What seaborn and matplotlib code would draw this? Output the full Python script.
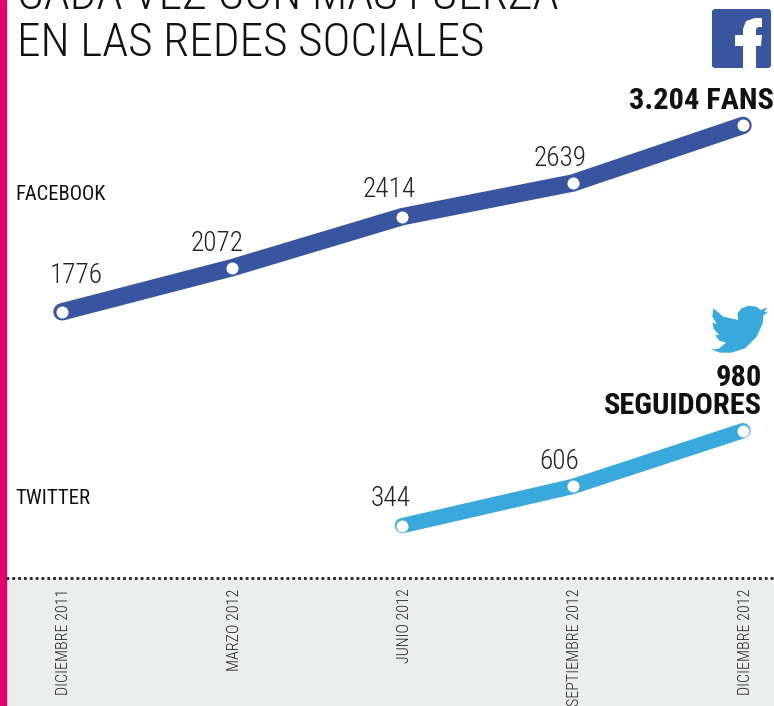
import matplotlib
matplotlib.use('Agg')

import pandas as pd
import matplotlib.pyplot as plt
import seaborn as sns
from matplotlib.patches import FancyBboxPatch, Polygon, Rectangle
from matplotlib.transforms import ScaledTranslation

# DATA
fechas = ["DICIEMBRE 2011", "MARZO 2012", "JUNIO 2012", "SEPTIEMBRE 2012", "DICIEMBRE 2012"]
facebook_pos = [1776, 2072, 2414, 2639, 3025]  # last point is drawn lower than 3204 in the original
facebook_txt = ["1776", "2072", "2414", "2639"]
twitter_idx = [2, 3, 4]
twitter_val = [344, 606, 980]
twitter_txt = ["344", "606"]

AZUL = "#3A559F"
CELESTE = "#39A9DC"
ROSA = "#E2006F"
GRIS = "#ECEEED"
NARROW = ["Roboto Condensed", "Roboto", "DejaVu Sans"]

W, H = 774, 706


def px(x, y):
    return x / W, 1 - y / H


sns.set_theme(style="white")
plt.rcParams["font.family"] = NARROW

fig = plt.figure(figsize=(W / 100, H / 100), dpi=100, facecolor="white")
fig.patches.append(Rectangle((0, 0), 1, 1 - 578 / H, transform=fig.transFigure, color=GRIS, zorder=0))
fig.patches.append(Rectangle((0, 0), 6 / W, 1, transform=fig.transFigure, color=ROSA, zorder=1))

ax = fig.add_axes([0, 1 - 578 / H, 1, 578 / H])
ax.set_zorder(2)
ax.patch.set_alpha(0)

df_fb = pd.DataFrame({"x": range(5), "y": facebook_pos})
df_tw = pd.DataFrame({"x": twitter_idx, "y": twitter_val})

for d, color, lw in [(df_fb, AZUL, 12.5), (df_tw, CELESTE, 11)]:
    sns.lineplot(data=d, x="x", y="y", color=color, lw=lw, ax=ax,
                 solid_capstyle="round", solid_joinstyle="round")
    sns.scatterplot(data=d, x="x", y="y", color="white", s=75, linewidth=0, ax=ax, zorder=5)

ax.set_xlim(-0.364, 4.182)
ax.set_ylim(-7, 3865)
ax.set_xlabel("")
ax.set_ylabel("")
ax.set_yticks([])
ax.set_xticks(range(5))
ax.set_xticklabels(fechas, rotation=90, ha="center", va="top", fontsize=11.5, fontweight="light", color="#222222")
ax.tick_params(axis="x", length=0, pad=7.6)
# rotated labels sit a little left of the tick, nudge them over
nudge = ScaledTranslation(2 / 100, 0, fig.dpi_scale_trans)
for lab in ax.get_xticklabels():
    lab.set_transform(lab.get_transform() + nudge)
sns.despine(ax=ax, left=True, top=True, right=True)
ax.spines["bottom"].set_linewidth(2)
ax.spines["bottom"].set_linestyle((0, (1, 1.1)))
ax.spines["bottom"].set_capstyle("butt")
ax.spines["bottom"].set_color("#222222")
ax.spines["bottom"].set_bounds(-0.33, 4.182)

# value labels
offs_fb = [(14, 36), (-15, 24), (-13, 27), (-13, 25)]
for i, (t, o) in enumerate(zip(facebook_txt, offs_fb)):
    ax.annotate(t, (i, facebook_pos[i]), xytext=o, textcoords="offset pixels",
                ha="center", va="center", fontsize=19.6, fontweight="light", color="#222222")
offs_tw = [(-12, 27), (-14, 25)]
for i, t, o in zip(twitter_idx, twitter_txt, offs_tw):
    ax.annotate(t, (i, twitter_val[twitter_idx.index(i)]), xytext=o, textcoords="offset pixels",
                ha="center", va="center", fontsize=19.6, fontweight="light", color="#222222")

# title, first line runs off the top of the page
fig.text(*px(17, 9), "CADA VEZ CON MÁS FUERZA", fontsize=34, fontweight="light", color="#111111", va="baseline")
fig.text(*px(17, 56), "EN LAS REDES SOCIALES", fontsize=34, fontweight="light", color="#111111", va="baseline")

fig.text(*px(15, 194), "FACEBOOK", fontsize=14.8, color="#111111", va="center")
fig.text(*px(15, 498), "TWITTER", fontsize=15, color="#111111", va="center")

fig.text(*px(774, 101), "3.204 FANS", fontsize=21.9, fontweight="bold", color="#111111", ha="right", va="center")
fig.text(*px(762, 378), "980", fontsize=21.9, fontweight="bold", color="#111111", ha="right", va="center")
fig.text(*px(762, 406), "SEGUIDORES", fontsize=21.9, fontweight="bold", color="#111111", ha="right", va="center")

# facebook icon
logo = FancyBboxPatch(px(712, 68), 59 / W, 59 / H, boxstyle="round,pad=0,rounding_size=0.004",
                      transform=fig.transFigure, facecolor=AZUL, edgecolor="none", zorder=3)
fig.patches.append(logo)
f_pts = [(743, 68), (743, 46), (735, 46), (735, 35), (743, 35), (743, 29), (746, 21), (755, 18),
         (762, 18), (762, 27), (758, 27), (756, 29), (756, 35), (762, 35), (761, 46), (756, 46), (756, 68)]
fig.patches.append(Polygon([px(*p) for p in f_pts], transform=fig.transFigure,
                           facecolor="white", edgecolor="none", zorder=4))

# twitter bird
bird = [(445, 17), (470, 20), (482, 30), (503, 22), (492, 36), (505, 35), (490, 47), (488, 70),
        (470, 110), (435, 145), (395, 158), (360, 158), (332, 148), (355, 147), (378, 128),
        (358, 122), (345, 105), (358, 105), (342, 88), (337, 68), (350, 72), (337, 50), (340, 25),
        (370, 50), (415, 60), (412, 40), (425, 25)]
fig.patches.append(Polygon([px(600 + a / 3, 300 + b / 3) for a, b in bird], transform=fig.transFigure,
                           facecolor=CELESTE, edgecolor="none", zorder=4))

fig.savefig("out.png", dpi=100)
